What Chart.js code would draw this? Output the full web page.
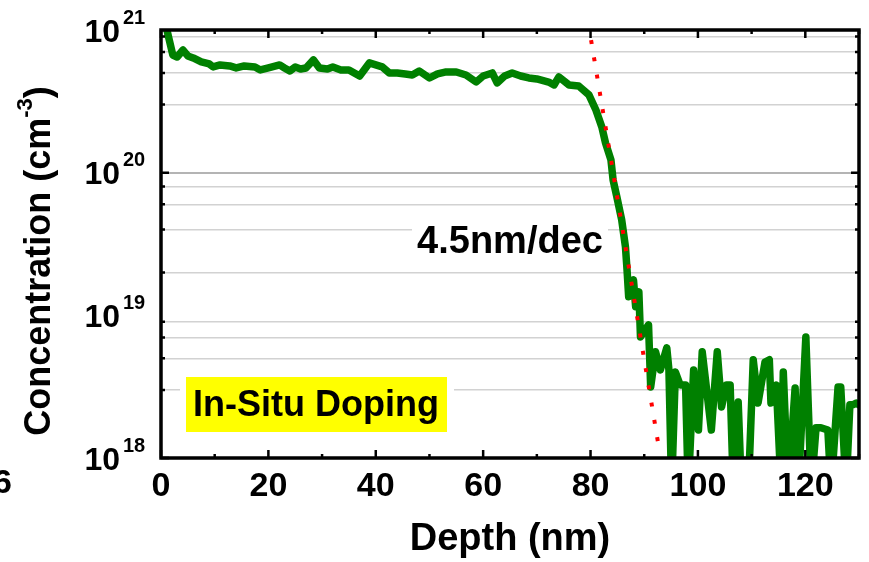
<!DOCTYPE html>
<html>
<head>
<meta charset="utf-8">
<script src="https://cdn.jsdelivr.net/npm/chart.js@4.4.1/dist/chart.umd.min.js"></script>
<style>
  html, body { margin: 0; padding: 0; background: #fff; }
  #wrap { width: 869px; height: 562px; }
</style>
</head>
<body>
<div id="wrap"><canvas id="sims" width="869" height="562"></canvas></div>
<script>
// SIMS profile (depth in nm, concentration in cm^-3)
const depthNm = [
  0.5, 1.1, 2.2, 3.0, 4.1, 5.0, 6.0, 7.5, 9.0, 9.7, 11.0, 12.8, 14.0, 15.5, 17.5, 18.5, 20.0,
  22.1, 23.0, 24.0, 25.0, 26.0, 27.0, 28.4, 29.5, 31.0, 32.0, 33.5, 35.0, 37.0, 38.8, 40.0,
  41.2, 42.5, 44.0, 45.5, 46.8, 48.1, 50.0, 51.5, 53.1, 55.0, 56.8, 58.7, 60.0, 61.7, 62.6,
  64.0, 65.4, 67.0, 68.5, 70.0, 72.2, 73.2, 74.1, 76.0, 77.8, 79.7, 81.0, 82.1, 82.8, 83.8,
  84.2, 84.9, 85.8, 86.5, 86.8, 87.1, 88.0, 88.4, 89.0, 89.3, 90.8, 91.2, 92.1, 93.0, 94.2,
  94.6, 95.1, 95.8, 96.7, 97.7, 98.2, 99.2, 100.1, 100.8, 102.5, 103.6, 104.4, 105.3, 106.0,
  106.6, 107.5, 108.1, 109.4, 110.3, 111.2, 112.5, 113.3, 113.6, 114.6, 115.5, 115.9, 116.8,
  118.1, 118.7, 120.1, 121.1, 122.0, 122.9, 124.2, 124.8, 126.1, 126.6, 127.6, 128.3, 128.9,
  129.5, 130.0
];
const concentration = [
  1.14e21, 1.0e21, 6.68e20, 6.47e20, 7.24e20, 6.58e20, 6.37e20, 5.97e20, 5.78e20, 5.51e20, 5.69e20, 5.60e20, 5.42e20, 5.60e20, 5.51e20, 5.25e20, 5.42e20,
  5.69e20, 5.42e20, 5.16e20, 5.51e20, 5.33e20, 5.42e20, 6.17e20, 5.42e20, 5.33e20, 5.51e20, 5.25e20, 5.25e20, 4.76e20, 5.88e20, 5.69e20,
  5.51e20, 5.00e20, 5.00e20, 4.92e20, 4.84e20, 5.16e20, 4.61e20, 4.92e20, 5.08e20, 5.08e20, 4.84e20, 4.32e20, 4.76e20, 5.00e20, 4.26e20,
  4.76e20, 5.00e20, 4.76e20, 4.61e20, 4.54e20, 4.32e20, 4.12e20, 4.69e20, 4.12e20, 4.05e20, 3.51e20, 2.75e20, 2.09e20, 1.61e20, 1.23e20,
  8.89e19, 6.76e19, 4.67e19, 3.02e19, 2.08e19, 1.35e19, 1.77e19, 1.15e19, 1.46e19, 7.06e18, 8.57e18, 3.15e18, 5.55e18, 4.14e18, 5.92e18,
  4.14e18, 6e17, 4.01e18, 3.25e18, 3.25e18, 6e17, 4.14e18, 1.57e18, 5.55e18, 1.57e18, 5.55e18, 2.28e18, 3.25e18, 3.25e18,
  6e17, 2.47e18, 6e17, 6e17, 4.88e18, 2.43e18, 4.71e18, 4.88e18, 2.43e18, 3.25e18, 6e17, 4.01e18, 6e17,
  3.10e18, 6e17, 7.06e18, 6e17, 1.63e18, 1.63e18, 1.57e18, 6e17, 3.15e18, 3.15e18, 6e17, 2.36e18, 2.36e18,
  2.43e18, 2.36e18
];

// 4.5 nm/dec guide line
const fitDepthNm = [80.1, 92.7];
const fitConcentration = [8.5e20, 1.2e18];

const xTickValues = [0, 10, 20, 30, 40, 50, 60, 70, 80, 90, 100, 110, 120, 130];
const yDecades = [1e18, 1e19, 1e20, 1e21];
const yExponents = ["18", "19", "20", "21"];
const yMantissas = [1, 2, 3, 4, 5, 6, 7, 8, 9];

const FONT = "'Liberation Sans', Arial, sans-serif";

const profile = depthNm.map((d, i) => ({ x: d, y: concentration[i] }));
const fit = fitDepthNm.map((d, i) => ({ x: d, y: fitConcentration[i] }));

function isDecade(v) {
  return yDecades.some(d => Math.abs(v / d - 1) < 1e-6);
}

const framePlugin = {
  id: 'frame',
  beforeDatasetsDraw(chart) {
    const ctx = chart.ctx;
    ctx.save();
    // label backgrounds hide the grid
    ctx.fillStyle = '#fff';
    ctx.fillRect(412, 222, 196, 40);
    ctx.fillRect(180, 371, 274, 67);
    ctx.fillStyle = '#ffff00';
    ctx.fillRect(186, 377, 261, 55);

    ctx.fillStyle = '#000';
    ctx.textAlign = 'center';
    ctx.textBaseline = 'middle';
    ctx.font = `bold 38px ${FONT}`;
    ctx.fillText('4.5nm/dec', 510, 243);
    ctx.font = `bold 36px ${FONT}`;
    ctx.fillText('In-Situ Doping', 316, 406);
    ctx.restore();
  },
  afterDraw(chart) {
    const ctx = chart.ctx;
    const a = chart.chartArea;
    const xs = chart.scales.x;
    const ys = chart.scales.y;
    ctx.save();
    ctx.strokeStyle = '#000';
    ctx.lineWidth = 2.5;

    // inward ticks on all four sides
    ctx.beginPath();
    xTickValues.forEach(v => {
      const px = xs.getPixelForValue(v);
      const len = v % 20 === 0 ? 8 : 4;
      ctx.moveTo(px, a.bottom); ctx.lineTo(px, a.bottom - len);
      ctx.moveTo(px, a.top); ctx.lineTo(px, a.top + len);
    });
    ys.ticks.forEach(t => {
      const py = ys.getPixelForValue(t.value);
      const len = isDecade(t.value) ? 8 : 4;
      ctx.moveTo(a.left, py); ctx.lineTo(a.left + len, py);
      ctx.moveTo(a.right, py); ctx.lineTo(a.right - len, py);
    });
    ctx.stroke();

    ctx.lineWidth = 3.5;
    ctx.strokeRect(a.left, a.top, a.right - a.left, a.bottom - a.top);

    // y tick labels 10^n
    ctx.fillStyle = '#000';
    ctx.textBaseline = 'middle';
    yDecades.forEach((v, i) => {
      const py = ys.getPixelForValue(v);
      ctx.font = `bold 32px ${FONT}`;
      ctx.textAlign = 'right';
      ctx.fillText('10', 120, py + 3);
      ctx.font = `bold 20px ${FONT}`;
      ctx.textAlign = 'left';
      ctx.fillText(yExponents[i], 123, py - 12);
    });

    // y title with superscript
    ctx.translate(40, 261);
    ctx.rotate(-Math.PI / 2);
    const main = 'Concentration (cm';
    const sup = '-3';
    ctx.font = `bold 36px ${FONT}`;
    const w1 = ctx.measureText(main).width;
    const w3 = ctx.measureText(')').width;
    ctx.font = `bold 22px ${FONT}`;
    const w2 = ctx.measureText(sup).width;
    let x0 = -(w1 + w2 + w3) / 2;
    ctx.textAlign = 'left';
    ctx.font = `bold 36px ${FONT}`;
    ctx.fillText(main, x0, 0);
    ctx.font = `bold 22px ${FONT}`;
    ctx.fillText(sup, x0 + w1, -14);
    ctx.font = `bold 36px ${FONT}`;
    ctx.fillText(')', x0 + w1 + w2, 0);
    ctx.restore();

    // clipped digit from the neighbouring panel
    ctx.save();
    ctx.fillStyle = '#000';
    ctx.font = `bold 34px ${FONT}`;
    ctx.textBaseline = 'middle';
    ctx.fillText('6', -7, 484);
    ctx.restore();
  }
};

new Chart(document.getElementById('sims'), {
  type: 'line',
  data: {
    datasets: [
      {
        label: 'fit',
        data: fit,
        borderColor: '#ff0000',
        borderWidth: 4,
        borderDash: [4, 13.5],
        pointRadius: 0,
        tension: 0,
        clip: 0
      },
      {
        label: 'In-Situ Doping',
        data: profile,
        borderColor: '#008000',
        borderWidth: 7.5,
        borderJoinStyle: 'round',
        borderCapStyle: 'round',
        pointRadius: 0,
        tension: 0,
        clip: 0
      }
    ]
  },
  options: {
    responsive: false,
    animation: false,
    devicePixelRatio: 1,
    layout: { padding: { top: 30, right: 10, left: 0, bottom: 0 } },
    plugins: {
      legend: { display: false },
      tooltip: { enabled: false }
    },
    scales: {
      x: {
        type: 'linear',
        min: 0,
        max: 130,
        afterBuildTicks: s => { s.ticks = xTickValues.map(v => ({ value: v })); },
        afterFit: s => { s.height = 104; },
        grid: { display: false, drawTicks: false },
        border: { display: false },
        ticks: {
          autoSkip: false,
          maxRotation: 0,
          padding: 8,
          color: '#000',
          font: { family: FONT, size: 34, weight: 'bold' },
          callback: v => (v % 20 === 0 ? v : '')
        },
        title: {
          display: true,
          text: 'Depth (nm)',
          color: '#000',
          font: { family: FONT, size: 38, weight: 'bold' },
          padding: { top: 0, bottom: 0 }
        }
      },
      y: {
        type: 'logarithmic',
        min: 1e18,
        max: 1e21,
        afterBuildTicks: s => {
          const t = [];
          yDecades.slice(0, 3).forEach(d => yMantissas.forEach(m => t.push({ value: m * d })));
          t.push({ value: 1e21 });
          s.ticks = t;
        },
        afterFit: s => { s.width = 161; },
        grid: {
          drawTicks: false,
          color: c => (c.tick && isDecade(c.tick.value) ? '#b4b4b4' : '#d2d2d2'),
          lineWidth: c => (c.tick && isDecade(c.tick.value) ? 2 : 1.5)
        },
        border: { display: false },
        ticks: { display: true, callback: () => '' }
      }
    }
  },
  plugins: [framePlugin]
});
</script>
</body>
</html>
